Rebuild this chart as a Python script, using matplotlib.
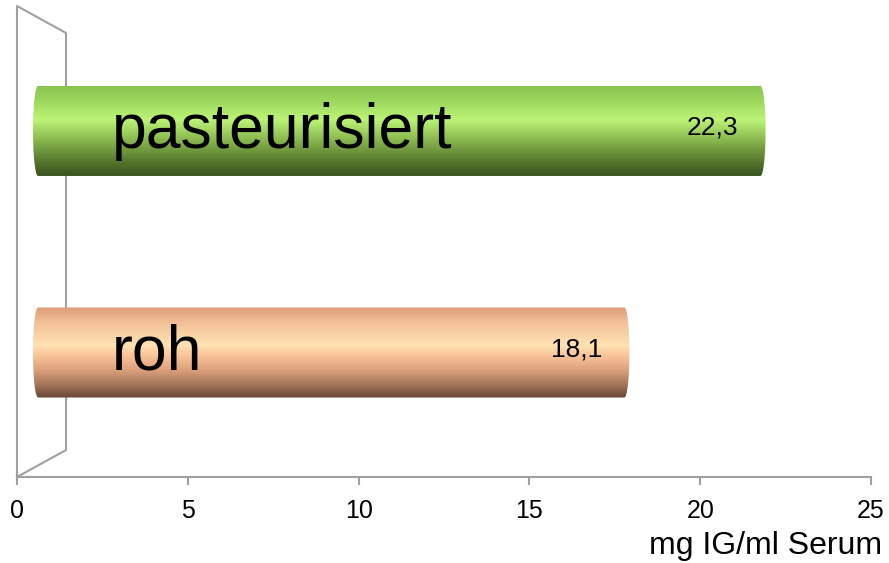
import numpy as np
import matplotlib
matplotlib.use('Agg')
import matplotlib.pyplot as plt
from matplotlib.colors import LinearSegmentedColormap
from matplotlib.patches import PathPatch
from matplotlib.path import Path

categories = ['roh', 'pasteurisiert']
values = [18.1, 22.3]
value_labels = ['18,1', '22,3']
xticks = [0, 5, 10, 15, 20, 25]
x_title = 'mg IG/ml Serum'

# vertical gradients for the cylinder look (top -> bottom)
gradients = [
    [(0.0, '#dc9c78'), (0.18, '#f4c298'), (0.42, '#ffe2b2'), (0.52, '#fbc79c'),
     (0.68, '#dfa37e'), (0.86, '#a27458'), (1.0, '#654734')],
    [(0.0, '#88c44e'), (0.16, '#9ad65c'), (0.38, '#bcf476'), (0.5, '#a0d460'),
     (0.66, '#7ca845'), (0.86, '#52722b'), (1.0, '#39531f')],
]

plt.rcParams['font.family'] = ['Liberation Sans', 'DejaVu Sans']
grey = '#a0a0a0'

fig = plt.figure(figsize=(8.89, 5.63), dpi=100)
pos = [17 / 889, 86 / 563, 854 / 889, 471 / 563]
ylim = (-0.562, 1.564)

# axis with ticks
ax = fig.add_axes(pos)
ax.set_xlim(0, 25)
ax.set_ylim(*ylim)
ax.set_xticks(xticks)
ax.set_yticks([])
for s in ['top', 'right', 'left']:
    ax.spines[s].set_visible(False)
ax.spines['bottom'].set_color(grey)
ax.spines['bottom'].set_linewidth(1.5)
ax.tick_params(axis='x', colors=grey, length=6, width=1.5, pad=10,
               labelsize=18, labelcolor='black')

# 3d side wall
wx = [0, 0, 0.0574, 0.0574, 0]
wy = [0, 1, 0.9427, 0.0573, 0]
ax.plot(wx, wy, color=grey, lw=1.5, transform=ax.transAxes, clip_on=False)

# bars on overlay axes (perspective scale)
ax2 = fig.add_axes(pos)
ax2.set_facecolor('none')
ax2.axis('off')

px_x = 32.4      # px per value unit for the bars
px_y = 221.5     # px per category unit
h = 90 / px_y
c = 5 / px_x
t = np.linspace(0, np.pi, 40)
grad = np.linspace(0, 1, 256).reshape(-1, 1)

for i, (cat, v, lab, g) in enumerate(zip(categories, values, value_labels, gradients)):
    yc = i
    lx = -c * np.sin(t)
    ly = yc + h / 2 * np.cos(t)
    rx = v + c * np.sin(t)
    ry = yc - h / 2 * np.cos(t)
    verts = np.vstack([np.column_stack([lx, ly]), np.column_stack([rx, ry]), [[lx[0], ly[0]]]])
    codes = [Path.MOVETO] + [Path.LINETO] * (len(verts) - 2) + [Path.CLOSEPOLY]
    patch = PathPatch(Path(verts, codes), facecolor='none', edgecolor='none')
    ax2.add_patch(patch)
    cmap = LinearSegmentedColormap.from_list('c%d' % i, g)
    im = ax2.imshow(grad, cmap=cmap, aspect='auto', origin='upper',
                    extent=[-c, v + c, yc - h / 2, yc + h / 2], interpolation='bilinear')
    im.set_clip_path(patch)

    ax2.text(v - 48 / px_x, yc + 3 / px_y, lab, ha='center', va='center', fontsize=19)
    ax2.text(72 / px_x + 0.05, yc - 17 / px_y, cat, ha='left', va='baseline', fontsize=45)

ax2.set_xlim(-21 / px_x, 833 / px_x)
ax2.set_ylim(*ylim)

fig.text(882 / 889, 9 / 563, x_title, ha='right', va='baseline', fontsize=23)

fig.savefig('out.png', dpi=100)
